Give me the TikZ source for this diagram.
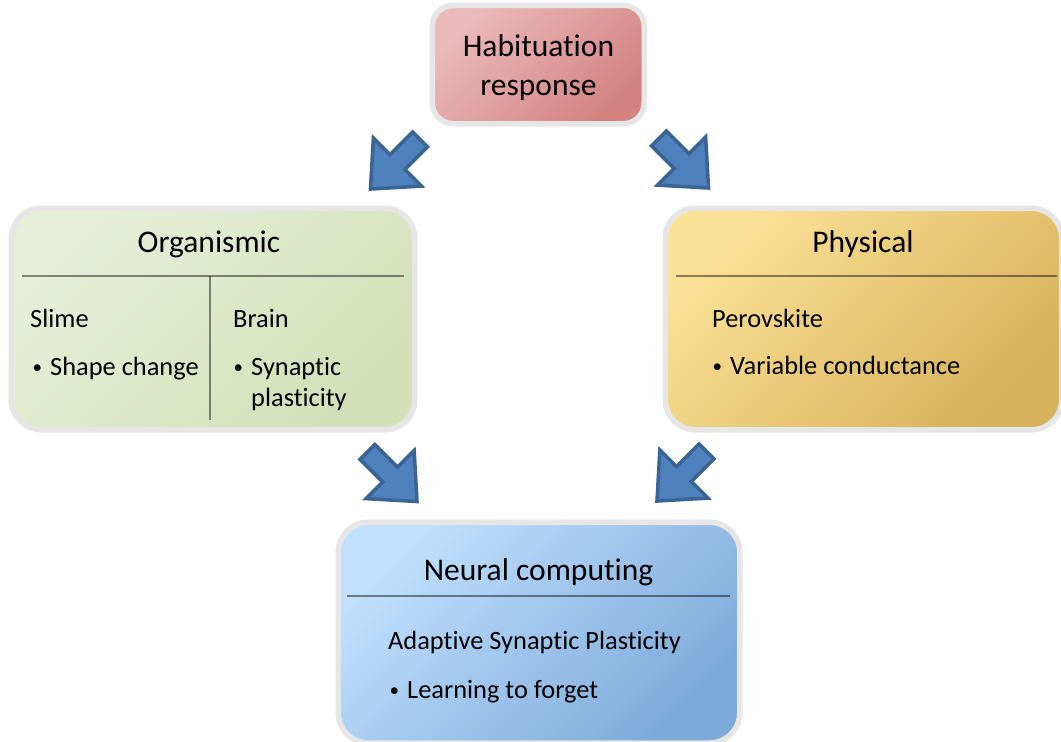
\documentclass[tikz,border=0pt]{standalone}
\usepackage{fontspec}
\setmainfont{Carlito}[RawFeature={-liga;-clig;-dlig}]
\definecolor{habA}{HTML}{EABABA}
\definecolor{habB}{HTML}{D48282}
\definecolor{orgA}{HTML}{E7EFD9}
\definecolor{orgB}{HTML}{D3E0B8}
\definecolor{phyA}{HTML}{FBE196}
\definecolor{phyB}{HTML}{D7B25C}
\definecolor{neuA}{HTML}{C0E0FD}
\definecolor{neuB}{HTML}{7EAADA}
\definecolor{arrFill}{HTML}{4F81BD}
\definecolor{arrDraw}{HTML}{3A6494}
\definecolor{rim}{HTML}{E6E6E6}
\tikzset{
  card/.style={draw=rim, line width=5.5pt},
  divider/.style={draw=black, draw opacity=0.45, line width=2.6pt},
  heading/.style={font=\fontsize{31.5}{38}\selectfont, inner sep=0pt, anchor=base},
  body/.style={font=\fontsize{26.4}{32}\selectfont, inner sep=0pt, anchor=base west},
  blockarrow/.style={fill=arrFill, draw=arrDraw, line width=3.5pt, line join=miter},
}
\newcommand{\blt}{\llap{\raisebox{2pt}{\fontsize{19}{19}\selectfont •}\hspace{8pt}}}
\begin{document}
\begin{tikzpicture}[x=1pt,y=-1pt]
\useasboundingbox (0,0) rectangle (1061,742);

% boxes
\path[card, top color=habA, bottom color=habB, shading angle=45, rounded corners=21pt]
  (432.25,5.25) rectangle (644.25,123.75);
\path[card, top color=orgA, bottom color=orgB, shading angle=45, rounded corners=30pt]
  (11.25,208.25) rectangle (414.75,429.75);
\path[card, top color=phyA, bottom color=phyB, shading angle=45, rounded corners=30pt]
  (665.25,208.25) rectangle (1061.75,429.75);
\path[card, top color=neuA, bottom color=neuB, shading angle=45, rounded corners=30pt]
  (338.25,522.25) rectangle (739.75,743);

% dividers
\draw[divider] (22,276) -- (404,276);
\draw[divider] (210,276) -- (210,420);
\draw[divider] (676,276) -- (1057,276);
\draw[divider] (347,596) -- (730,596);

% arrows
\foreach \cx/\cy/\ang in {395/164.5/-135, 684/163.5/-45, 392.5/477/-45, 681.5/476.5/-135}{
  \draw[blockarrow, shift={(\cx,\cy)}, rotate=\ang]
    (-35.5,10.5) -- (-3.4,10.5) -- (-3.4,34) -- (34.7,0) -- (-3.4,-34) -- (-3.4,-10.5) -- (-35.5,-10.5) -- cycle;
}

% texts
\node[heading] (hab1) at (538.5,56.7) {Habituation};
\node[heading] (hab2) at (538.5,95) {response};
\node[heading] (org) at (209,252) {Organismic};
\node[heading] (phy) at (863,252) {Physical};
\node[heading] (neu) at (538.5,580) {Neural computing};

\node[body] (slime) at (30,327) {Slime};
\node[body] (shape) at (50,375.5) {\blt Shape change};
\node[body] (brain) at (233,327) {Brain};
\node[body] (syn) at (251,375.5) {\blt Synaptic};
\node[body] (plas) at (251,406.5) {plasticity};
\node[body] (perov) at (712,327) {Perovskite};
\node[body] (varc) at (730,374.5) {\blt Variable conductance};
\node[body] (asp) at (388,649.5) {Adaptive Synaptic Plasticity};
\node[body] (learn) at (407,698.5) {\blt Learning to forget};
\end{tikzpicture}
\end{document}
